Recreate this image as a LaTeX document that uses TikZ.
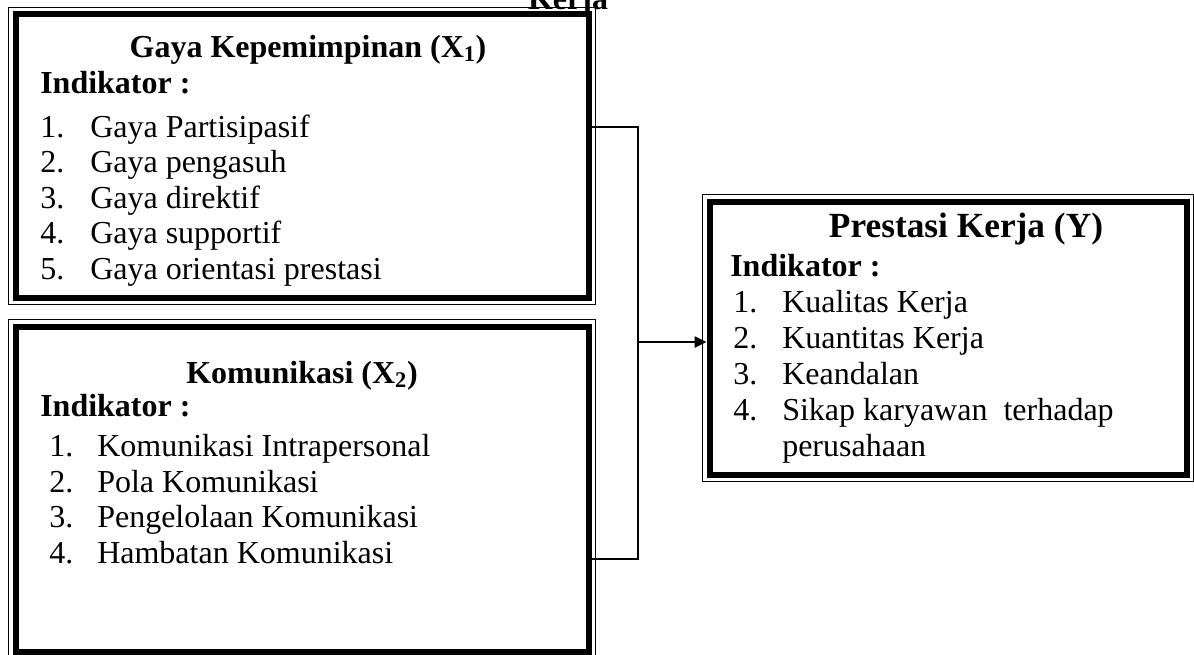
\documentclass[tikz,border=0pt]{standalone}
\usepackage{fontspec}
\setmainfont{Liberation Serif}
\usetikzlibrary{positioning,arrows.meta,fit,calc}

\begin{document}
\begin{tikzpicture}[
  x=0.75pt, y=-0.75pt,
  frame/.style={rectangle, draw, line width=4.5pt, inner sep=0pt},
  outerframe/.style={rectangle, draw, line width=0.9pt, inner sep=3pt},
  title/.style={font=\fontsize{24}{24}\selectfont\bfseries, anchor=base, inner sep=0pt},
  head/.style={font=\fontsize{24}{24}\selectfont\bfseries, anchor=base west, inner sep=0pt},
  item/.style={font=\fontsize{24}{24}\selectfont, anchor=base west, inner sep=0pt},
  conn/.style={line width=1.1pt},
  arr/.style={conn, -{Triangle[length=9pt, width=8.5pt]}}
]
\useasboundingbox (0,0) rectangle (1194,654);

% caption remnant
\node[title] (kerja) at (568,9) {Kerja};

% Frames
\node[frame, minimum width=429.75pt, minimum height=212.625pt] (gaya) at (302,156) {};
\node[outerframe, fit=(gaya)] (gayaout) {};
\node[frame, minimum width=429.75pt, minimum height=244.125pt] (komu) at (302,489.25) {};
\node[outerframe, fit=(komu)] (komuout) {};
\node[frame, minimum width=357.75pt, minimum height=204.75pt] (prestasi) at (948,338) {};
\node[outerframe, fit=(prestasi)] (prestasiout) {};

% Gaya Kepemimpinan
\node[title] (gtitle) at (308,57) {Gaya Kepemimpinan (X\textsubscript{1})};
\node[head] (ghead) at (40,93) {Indikator :};
\node[item] (gn1) at (40,137) {1.};
\node[item] (gi1) at (90,137) {Gaya Partisipasif};
\node[item] (gn2) at (40,172.5) {2.};
\node[item] (gi2) at (90,172.5) {Gaya pengasuh};
\node[item] (gn3) at (40,208) {3.};
\node[item] (gi3) at (90,208) {Gaya direktif};
\node[item] (gn4) at (40,243.5) {4.};
\node[item] (gi4) at (90,243.5) {Gaya supportif};
\node[item] (gn5) at (40,279) {5.};
\node[item] (gi5) at (90,279) {Gaya orientasi prestasi};

% Komunikasi
\node[title] (ktitle) at (302,383) {Komunikasi (X\textsubscript{2})};
\node[head] (khead) at (40,416) {Indikator :};
\node[item] (kn1) at (49,456.5) {1.};
\node[item] (ki1) at (97,456.5) {Komunikasi Intrapersonal};
\node[item] (kn2) at (49,492) {2.};
\node[item] (ki2) at (97,492) {Pola Komunikasi};
\node[item] (kn3) at (49,527.5) {3.};
\node[item] (ki3) at (97,527.5) {Pengelolaan Komunikasi};
\node[item] (kn4) at (49,563) {4.};
\node[item] (ki4) at (97,563) {Hambatan Komunikasi};

% Prestasi Kerja
\node[title, font=\fontsize{26.5}{26.5}\selectfont\bfseries] (ptitle) at (966,237) {Prestasi Kerja (Y)};
\node[head] (phead) at (730,276) {Indikator :};
\node[item] (pn1) at (733,312) {1.};
\node[item] (pi1) at (782,312) {Kualitas Kerja};
\node[item] (pn2) at (733,348) {2.};
\node[item] (pi2) at (782,348) {Kuantitas Kerja};
\node[item] (pn3) at (733,384) {3.};
\node[item] (pi3) at (782,384) {Keandalan};
\node[item] (pn4) at (733,420) {4.};
\node[item] (pi4) at (782,420) {Sikap karyawan\ \ terhadap};
\begin{scope}
  \clip (700,430) rectangle (1194,462);
  \node[item] (pi5) at (782,456) {perusahaan};
\end{scope}

% Connectors
\coordinate (join) at (638,342);
\draw[conn] ([shift={(0,-29)}]gaya.east) -| (join) |- ([shift={(0,69.75)}]komu.east);
\draw[arr] (join) -- ([shift={(0,4)}]prestasi.west);
\end{tikzpicture}
\end{document}
